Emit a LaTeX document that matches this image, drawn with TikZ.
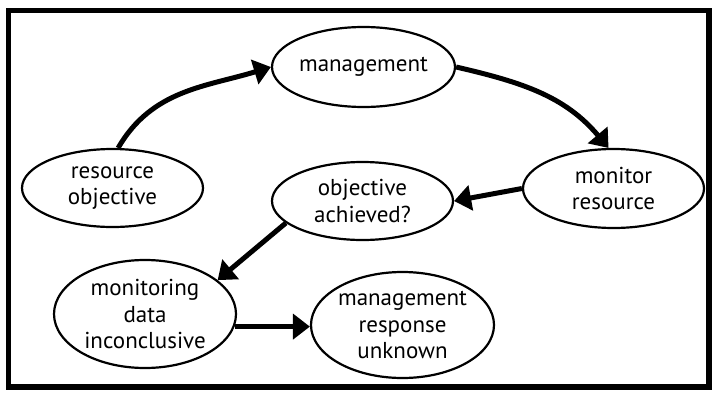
\documentclass[tikz,border=0pt]{standalone}
\usepackage{fontspec}
\setmainfont{PT Sans}
\usetikzlibrary{shapes.geometric,arrows.meta}
\tikzset{
  oval/.style={ellipse, draw, line width=2.2bp, inner sep=0pt, align=center,
    font=\fontsize{23bp}{26.5bp}\selectfont},
  flow/.style={line width=5bp, -{Triangle[length=17bp,width=25bp]}},
}
\begin{document}
\begin{tikzpicture}[x=1bp,y=1bp]
\useasboundingbox (0,0) rectangle (713,397);
\draw[line width=5.5bp] (8.5,10) rectangle (709,386.5);
\node[oval, minimum width=183bp, minimum height=80bp] (mgmt) at (363.5,330) {management};
\node[oval, minimum width=181bp, minimum height=78bp] (resobj) at (112.5,209) {resource\\objective};
\node[oval, minimum width=181bp, minimum height=79bp] (monres) at (613.5,208.5) {monitor\\resource};
\node[oval, minimum width=181bp, minimum height=78bp] (objach) at (362.5,196) {objective\\achieved?};
\node[oval, minimum width=182bp, minimum height=108bp] (mondata) at (145,83) {monitoring\\data\\inconclusive};
\node[oval, minimum width=183bp, minimum height=106bp] (mresp) at (402.5,72) {management\\response\\unknown};
\draw[flow] (resobj.82) to[out=60,in=197] (mgmt.west);
\draw[flow] (mgmt.east) to[out=-13,in=130] (monres.97);
\draw[flow] (monres.west) -- (objach.east);
\draw[flow] (objach.196) -- (mondata.25);
\draw[flow] (mondata.-8) -- (mondata.-8 -| mresp.west);
\end{tikzpicture}
\end{document}
